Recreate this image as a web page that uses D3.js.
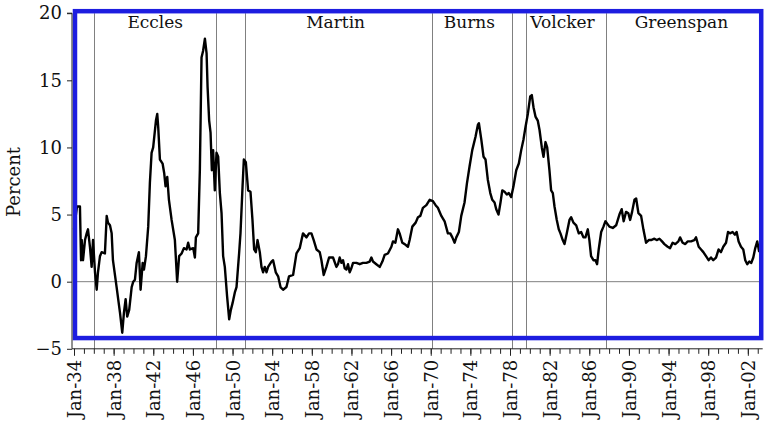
<!DOCTYPE html>
<html>
<head>
<meta charset="utf-8">
<script src="https://cdn.jsdelivr.net/npm/d3@7"></script>
<style>
  html, body { margin: 0; padding: 0; background: #fff; }
  svg { display: block; }
  text { font-family: "DejaVu Serif", "Liberation Serif", serif; fill: #111; }
</style>
</head>
<body>
<svg id="chart" width="768" height="428"></svg>
<script>
// ---- data (decimal year, percent) ----
const dates = [
  1934.00,1934.30,1934.60,1934.71,1934.78,1934.91,1935.11,1935.28,1935.41,1935.61,1935.78,1935.92,
  1936.12,1936.29,1936.42,1936.62,1936.79,1937.12,1937.30,1937.43,1937.63,1937.80,1937.93,1938.30,
  1938.64,1938.87,1939.04,1939.21,1939.37,1939.57,1939.82,1939.98,1940.15,1940.32,1940.55,1940.72,
  1940.93,1941.06,1941.26,1941.49,1941.66,1941.83,1941.99,1942.27,1942.40,1942.50,1942.67,1942.94,
  1943.10,1943.24,1943.41,1943.58,1943.85,1944.18,1944.41,1944.61,1944.86,1945.09,1945.36,1945.52,
  1945.69,1946.03,1946.20,1946.30,1946.53,1946.70,1946.87,1947.03,1947.21,1947.38,1947.48,1947.64,
  1947.78,1947.91,1948.04,1948.21,1948.38,1948.55,1948.72,1948.89,1949.05,1949.22,1949.45,1949.66,
  1949.83,1950.00,1950.23,1950.40,1950.66,1950.80,1951.01,1951.14,1951.34,1951.57,1951.81,1952.01,
  1952.18,1952.35,1952.52,1952.75,1952.92,1953.08,1953.25,1953.43,1953.59,1953.93,1954.09,1954.36,
  1954.60,1954.84,1955.10,1955.44,1955.70,1956.11,1956.45,1956.78,1957.11,1957.46,1957.72,1957.96,
  1958.19,1958.47,1958.80,1958.97,1959.20,1959.47,1959.74,1960.14,1960.48,1960.64,1960.81,1960.99,
  1961.15,1961.32,1961.49,1961.65,1961.82,1961.99,1962.16,1962.50,1962.83,1963.16,1963.51,1963.84,
  1964.01,1964.17,1964.51,1964.85,1965.12,1965.35,1965.68,1966.03,1966.19,1966.43,1966.69,1966.86,
  1967.13,1967.37,1967.70,1967.87,1968.14,1968.48,1968.71,1968.95,1969.21,1969.56,1969.89,1970.22,
  1970.49,1970.72,1971.07,1971.40,1971.73,1971.97,1972.18,1972.41,1972.58,1972.84,1973.08,1973.41,
  1973.65,1973.92,1974.19,1974.52,1974.76,1974.86,1975.10,1975.33,1975.53,1975.76,1976.01,1976.21,
  1976.44,1976.61,1976.84,1977.04,1977.22,1977.45,1977.68,1977.88,1978.12,1978.35,1978.63,1978.89,
  1979.13,1979.36,1979.56,1979.80,1980.04,1980.20,1980.37,1980.57,1980.80,1980.98,1981.21,1981.38,
  1981.58,1981.75,1981.98,1982.15,1982.32,1982.49,1982.72,1982.92,1983.09,1983.32,1983.50,1983.73,
  1984.00,1984.17,1984.40,1984.68,1984.94,1985.18,1985.41,1985.61,1985.85,1986.01,1986.18,1986.42,
  1986.62,1986.79,1986.95,1987.20,1987.43,1987.63,1988.03,1988.37,1988.71,1989.04,1989.27,1989.47,
  1989.71,1989.94,1990.12,1990.32,1990.56,1990.73,1990.96,1991.23,1991.46,1991.73,1992.00,1992.24,
  1992.57,1992.80,1993.08,1993.34,1993.58,1993.91,1994.15,1994.41,1994.68,1994.99,1995.16,1995.42,
  1995.69,1995.92,1996.27,1996.60,1996.77,1997.04,1997.28,1997.51,1997.78,1998.04,1998.28,1998.51,
  1998.79,1999.05,1999.29,1999.52,1999.80,2000.00,2000.20,2000.46,2000.70,2000.87,2001.07,2001.31,
  2001.54,2001.74,2001.94,2002.15,2002.35,2002.55,2002.75,2002.95,2003.15
];
const inflation = [
  3.9,5.6,5.6,1.6,3.1,1.6,3.1,3.6,3.9,2.6,1.1,3.1,
  0.7,-0.6,0.7,1.9,2.2,2.1,4.9,4.4,4.2,3.6,1.6,-0.4,
  -2.3,-3.8,-2.3,-1.3,-2.6,-2.1,-0.4,0.0,0.15,1.4,2.2,-0.6,
  1.4,0.9,1.9,4.1,7.4,9.6,10.0,12.0,12.5,11.5,9.1,8.8,
  8.1,7.1,7.8,6.1,4.6,3.1,0.0,1.9,2.1,2.5,2.4,2.9,
  2.4,2.5,1.8,3.3,3.6,8.3,16.7,17.2,18.1,17.0,14.5,12.0,
  11.1,8.3,9.8,6.8,9.6,9.3,6.6,5.1,1.9,1.1,-1.1,-2.8,
  -2.1,-1.6,-0.8,-0.4,2.1,3.6,7.1,9.1,8.9,6.8,6.7,4.6,
  2.4,2.2,3.1,2.2,1.1,0.7,1.1,0.7,1.1,1.5,1.6,0.7,
  0.4,-0.4,-0.6,-0.4,0.4,0.5,2.1,2.5,3.6,3.3,3.6,3.6,
  3.1,2.4,2.2,1.6,0.5,1.1,1.8,1.8,1.1,1.3,1.8,1.4,
  1.6,1.0,0.9,1.3,0.7,1.0,1.4,1.4,1.3,1.4,1.4,1.5,
  1.8,1.5,1.3,1.1,1.5,2.0,2.1,2.6,3.0,2.9,3.9,3.6,
  2.9,2.8,2.6,3.1,4.1,4.4,4.8,4.9,5.5,5.7,6.1,6.0,
  5.7,5.5,4.9,4.5,3.6,3.6,3.3,2.9,3.3,3.7,4.9,5.9,
  7.3,8.6,9.8,10.8,11.7,11.8,10.6,9.3,9.1,7.6,6.6,6.1,
  5.9,5.4,5.0,5.9,6.8,6.7,6.5,6.6,6.3,7.1,8.3,8.8,
  9.8,10.6,11.5,12.5,13.8,13.9,13.0,12.3,12.0,11.3,10.0,9.3,
  10.4,10.0,8.3,6.8,6.6,5.6,4.6,3.9,3.6,3.1,2.8,3.6,
  4.6,4.8,4.4,4.2,3.6,3.7,3.3,3.3,3.9,3.1,1.9,1.6,
  1.6,1.3,2.4,3.7,4.1,4.5,4.1,4.0,4.2,5.0,5.4,4.5,
  5.2,5.1,4.6,5.2,6.1,6.2,5.1,4.9,3.9,2.9,3.1,3.1,
  3.2,3.1,3.2,3.0,2.8,2.6,2.5,2.9,2.8,3.0,3.3,2.9,
  2.8,3.0,3.0,3.1,3.3,2.6,2.4,2.2,1.9,1.6,1.8,1.6,
  1.8,2.4,2.2,2.6,2.9,3.7,3.6,3.7,3.5,3.7,3.0,2.6,
  2.4,1.6,1.3,1.5,1.4,1.8,2.5,3.0,2.2
];
// Fed chair terms (start dates, decimal years) and labels
const chairStarts = [1936.05, 1948.30, 1951.22, 1970.14, 1978.23, 1979.58, 1987.65];
const chairLabels = ["Eccles", "Martin", "Burns", "Volcker", "Greenspan"];
const chairLabelYears = [1942.2, 1960.4, 1973.9, 1983.3, 1995.3];
const yTicks = [-5, 0, 5, 10, 15, 20];
const xLabelYears = d3.range(1934, 2003, 4);   // Jan-34 ... Jan-02
const xMinorYears = d3.range(1934, 2004, 1);

// ---- layout ----
const svg = d3.select("#chart");
const x = d3.scaleLinear().domain([1934, 2003.5]).range([74, 762.7]);
const y = d3.scaleLinear().domain([-5, 20]).range([348.8, 13.2]);

svg.append("rect").attr("width", 768).attr("height", 428).attr("fill", "#fff");

// zero line
svg.append("line")
  .attr("x1", x(1934)).attr("x2", x(2003.5))
  .attr("y1", y(0)).attr("y2", y(0))
  .attr("stroke", "#808080").attr("stroke-width", 1);

// chair lines
svg.selectAll("line.chair").data(chairStarts).enter().append("line")
  .attr("class", "chair")
  .attr("x1", d => Math.round(x(d)) + 0.5).attr("x2", d => Math.round(x(d)) + 0.5)
  .attr("y1", y(20)).attr("y2", y(-5))
  .attr("stroke", "#808080").attr("stroke-width", 1);

// series
const line = d3.line().x((d, i) => x(dates[i])).y(d => y(d));
svg.append("path")
  .datum(inflation)
  .attr("d", line)
  .attr("fill", "none")
  .attr("stroke", "#000")
  .attr("stroke-width", 2.4)
  .attr("stroke-linejoin", "round");

// chair labels
svg.selectAll("text.chairlab").data(chairLabels).enter().append("text")
  .attr("class", "chairlab")
  .attr("x", (d, i) => x(chairLabelYears[i]))
  .attr("y", 28)
  .attr("text-anchor", "middle")
  .attr("font-size", 17)
  .text(d => d);

// blue frame
svg.append("rect")
  .attr("x", x(1934.1)).attr("y", y(20.15))
  .attr("width", x(2003.35) - x(1934.1))
  .attr("height", y(-4.2) - y(20.15))
  .attr("fill", "none")
  .attr("stroke", "#1d1de0")
  .attr("stroke-width", 4.5);

// y axis
const yAxis = d3.axisLeft(y).tickValues(yTicks).tickSize(5).tickPadding(5)
  .tickFormat(d => d < 0 ? "\u2212" + Math.abs(d) : d);
const gy = svg.append("g").attr("transform", `translate(${x(1934) - 2},0)`).call(yAxis);
gy.select(".domain").attr("stroke", "#222").attr("d", `M-5,${y(20)}H0V${y(-5)}`);
gy.selectAll(".tick line").attr("stroke", "#222");
gy.selectAll(".tick text").attr("font-size", 18).attr("font-family", "DejaVu Serif").attr("fill", "#111");

// x axis: minor yearly ticks
const gx = svg.append("g").attr("transform", `translate(0,${y(-5)})`);
gx.append("line").attr("x1", x(1934) - 2).attr("x2", x(2003.5))
  .attr("y1", 0).attr("y2", 0).attr("stroke", "#222");
gx.call(d3.axisBottom(x).tickValues(xMinorYears).tickSize(5).tickFormat(""))
  .select(".domain").remove();
gx.selectAll(".tick line").attr("stroke", "#222");
const gxl = svg.append("g").attr("transform", `translate(0,${y(-5)})`)
  .call(d3.axisBottom(x).tickValues(xLabelYears).tickSize(7).tickPadding(6)
    .tickFormat(d => "Jan-" + String(d % 100).padStart(2, "0")));
gxl.select(".domain").remove();
gxl.selectAll(".tick line").attr("stroke", "#222");
gxl.selectAll(".tick text")
  .attr("font-size", 18).attr("font-family", "DejaVu Serif").attr("fill", "#111")
  .attr("text-anchor", "end")
  .attr("transform", "rotate(-90)")
  .attr("x", -11).attr("y", 0).attr("dy", "0.36em");

// y label
svg.append("text")
  .attr("transform", "translate(20,182) rotate(-90)")
  .attr("text-anchor", "middle")
  .attr("font-size", 18)
  .text("Percent");
</script>
</body>
</html>
